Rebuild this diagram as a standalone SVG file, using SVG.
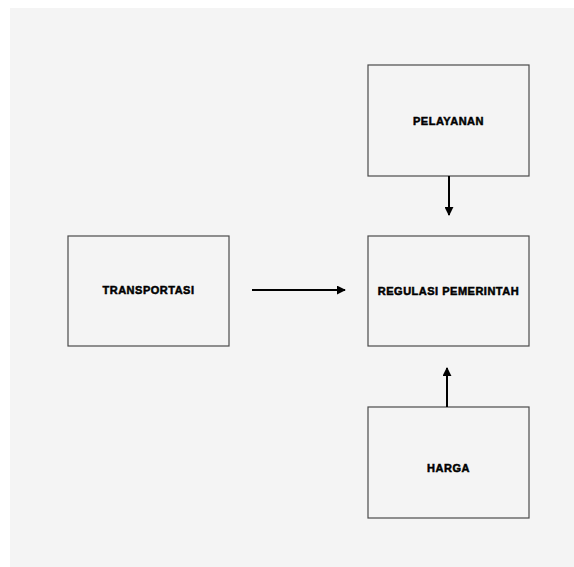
<svg xmlns="http://www.w3.org/2000/svg" width="574" height="567" viewBox="0 0 574 567">
<style>
.box{fill:#f4f4f4;stroke:#4a4a4a;stroke-width:1.2}
.lbl{font-family:"Liberation Sans",Arial,sans-serif;font-weight:bold;font-size:11px;letter-spacing:0.5px;fill:#000;stroke:#000;stroke-width:0.5;text-anchor:middle;dominant-baseline:central}
.arr{stroke:#000;stroke-width:2;fill:none}
</style>
<defs>
<marker id="ah" viewBox="0 0 10 10" refX="9" refY="5" markerWidth="4.5" markerHeight="4.5" orient="auto" markerUnits="strokeWidth">
<path d="M0,0 L10,5 L0,10 z" fill="#000"/>
</marker>
</defs>
<rect x="10" y="8" width="564" height="559" fill="#f4f4f4"/>
<g id="pelayanan"><rect class="box" x="368" y="65" width="161" height="111"/><text class="lbl" x="448.5" y="121">PELAYANAN</text></g>
<g id="transportasi"><rect class="box" x="68" y="236" width="161" height="110"/><text class="lbl" x="148.5" y="290">TRANSPORTASI</text></g>
<g id="regulasi"><rect class="box" x="368" y="236" width="161" height="110"/><text class="lbl" x="448.5" y="291">REGULASI PEMERINTAH</text></g>
<g id="harga"><rect class="box" x="368" y="407" width="161" height="111"/><text class="lbl" x="448.5" y="468">HARGA</text></g>
<g id="connectors">
<line class="arr" x1="449" y1="176" x2="449" y2="215" marker-end="url(#ah)"/>
<line class="arr" x1="252" y1="290" x2="345" y2="290" marker-end="url(#ah)"/>
<line class="arr" x1="447" y1="407" x2="447" y2="368" marker-end="url(#ah)"/>
</g>
</svg>
